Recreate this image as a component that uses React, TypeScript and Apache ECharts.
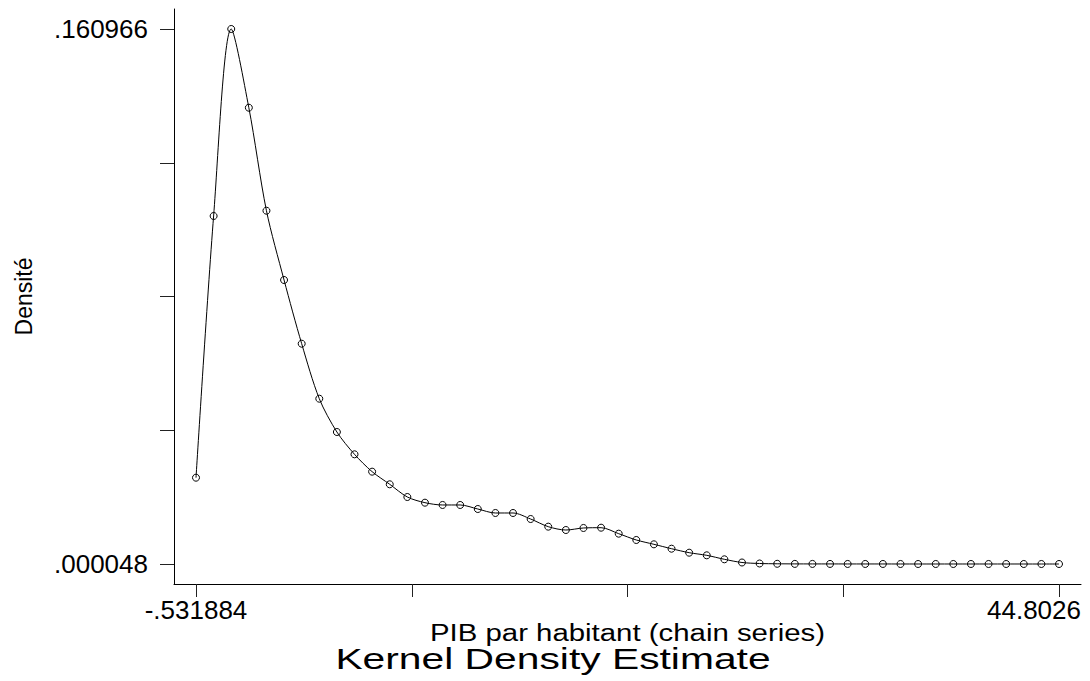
import React, { useEffect, useRef } from "react";
import * as echarts from "echarts";

// Kernel density grid points (PIB par habitant)
const xValues = [
  -0.531884, 0.39331, 1.318503, 2.243697, 3.16889, 4.094084, 5.019277, 5.944471,
  6.869664, 7.794858, 8.720052, 9.645245, 10.570439, 11.495632, 12.420826,
  13.346019, 14.271213, 15.196406, 16.1216, 17.046793, 17.971987, 18.897181,
  19.822374, 20.747568, 21.672761, 22.597955, 23.523148, 24.448342, 25.373535,
  26.298729, 27.223923, 28.149116, 29.07431, 29.999503, 30.924697, 31.84989,
  32.775084, 33.700277, 34.625471, 35.550665, 36.475858, 37.401052, 38.326245,
  39.251439, 40.176632, 41.101826, 42.027019, 42.952213, 43.877406, 44.8026,
];

// Estimated density at each grid point
const densityValues = [
  0.02601, 0.10472, 0.160966, 0.13729, 0.10631, 0.08547, 0.06631, 0.04977,
  0.03975, 0.03304, 0.02782, 0.02402, 0.0202, 0.01849, 0.0178, 0.0178,
  0.01659, 0.01539, 0.01539, 0.01358, 0.01128, 0.01027, 0.01088, 0.01097,
  0.00917, 0.00727, 0.00597, 0.00465, 0.00345, 0.00266, 0.00146, 0.0005,
  0.0002, 0.00011, 0.00008, 0.00007, 0.00007, 0.00006, 0.00006, 0.00006,
  0.00005, 0.00005, 0.00005, 0.00005, 0.00005, 0.000049, 0.000049, 0.000048,
  0.000048, 0.000048,
];

// Axis ticks and labels
const xTickValues = [-0.531884, 10.801737, 22.135358, 33.468979, 44.8026];
const yTickValues = [0.000048, 0.0402775, 0.080507, 0.1207365, 0.160966];
const xTickLabels = ["-.531884", "44.8026"];
const yTickLabels = [".000048", ".160966"];

const xAxisTitle = "PIB par habitant (chain series)";
const yAxisTitle = "Densité";
const chartTitle = "Kernel Density Estimate";

const FONT = "'Liberation Sans', Arial, sans-serif";

export default function App() {
  const ref = useRef<HTMLDivElement>(null);

  useEffect(() => {
    document.body.style.margin = "0";
    if (!ref.current) return;
    const chart = echarts.init(ref.current, undefined, { renderer: "svg" });

    const xSpan = xTickValues[xTickValues.length - 1] - xTickValues[0];
    const ySpan = yTickValues[yTickValues.length - 1] - yTickValues[0];
    const xPad = (xSpan * 22) / 863;
    const yPad = (ySpan * 20) / 535;
    const xMin = xTickValues[0] - xPad;
    const xMax = xTickValues[xTickValues.length - 1] + xPad;
    const yMin = yTickValues[0] - yPad;
    const yMax = yTickValues[yTickValues.length - 1] + yPad;

    const data = xValues.map((x, i) => [x, densityValues[i]]);

    chart.setOption({
      animation: false,
      backgroundColor: "#ffffff",
      grid: { left: 174, right: 9, top: 9, bottom: 97, outerBoundsMode: "none" },
      xAxis: {
        type: "value",
        min: xMin,
        max: xMax,
        axisLine: { show: true, onZero: false, lineStyle: { color: "#000", width: 1 } },
        axisTick: {
          show: true,
          length: 13,
          customValues: xTickValues,
          lineStyle: { color: "#222", width: 1 },
        },
        axisLabel: {
          show: true,
          customValues: [xTickValues[0], xMax],
          alignMaxLabel: "right",
          margin: 13,
          color: "#000",
          fontFamily: FONT,
          fontSize: 26,
          formatter: (v: number) => (v < xTickValues[1] ? xTickLabels[0] : xTickLabels[1]),
        },
        splitLine: { show: false },
      },
      yAxis: {
        type: "value",
        min: yMin,
        max: yMax,
        name: yAxisTitle,
        nameLocation: "middle",
        nameGap: 139,
        nameTextStyle: { fontFamily: FONT, fontSize: 23, color: "#000" },
        axisLine: { show: true, onZero: false, lineStyle: { color: "#000", width: 1 } },
        axisTick: {
          show: true,
          length: 14,
          customValues: yTickValues,
          lineStyle: { color: "#222", width: 1 },
        },
        axisLabel: {
          show: true,
          customValues: [yTickValues[0], yTickValues[yTickValues.length - 1]],
          margin: 26,
          color: "#000",
          fontFamily: FONT,
          fontSize: 26,
          formatter: (v: number) => (v < yTickValues[2] ? yTickLabels[0] : yTickLabels[1]),
        },
        splitLine: { show: false },
      },
      graphic: [
        {
          type: "text",
          x: 627.5,
          y: 633.5,
          scaleX: 1.25,
          style: {
            text: xAxisTitle,
            fontFamily: FONT,
            fontSize: 23.5,
            fill: "#000",
            align: "center",
            verticalAlign: "middle",
          },
        },
        {
          type: "text",
          x: 553,
          y: 659,
          scaleX: 1.36,
          style: {
            text: chartTitle,
            fontFamily: FONT,
            fontSize: 30,
            fill: "#000",
            align: "center",
            verticalAlign: "middle",
          },
        },
      ],
      series: [
        {
          type: "line",
          data,
          smooth: 0.3,
          symbol: "circle",
          symbolSize: 7,
          showSymbol: true,
          lineStyle: { color: "#000", width: 1 },
          itemStyle: { color: "rgba(0,0,0,0)", borderColor: "#000", borderWidth: 1 },
          emphasis: { disabled: true },
        },
      ],
    });

    return () => chart.dispose();
  }, []);

  return <div ref={ref} style={{ width: 1090, height: 681 }} />;
}
